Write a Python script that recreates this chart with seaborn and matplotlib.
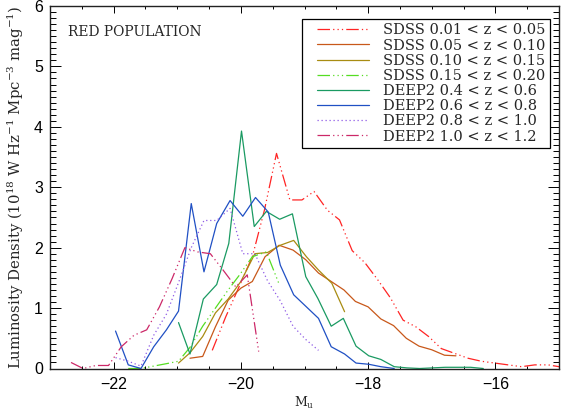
import matplotlib
matplotlib.use("Agg")
import matplotlib.pyplot as plt
import seaborn as sns
from matplotlib.ticker import MultipleLocator
from matplotlib.lines import Line2D
from matplotlib.legend_handler import HandlerLine2D

# magnitudes (M_u) and luminosity density
m_sdss1 = [-20.45, -20.24, -20.03, -19.82, -19.63, -19.44, -19.23, -19.04, -18.85, -18.64,
           -18.45, -18.25, -18.05, -17.85, -17.65, -17.45, -17.25, -17.05, -16.85, -16.64,
           -16.43, -16.22, -16.01, -15.80, -15.59, -15.38, -15.17, -15.00]
ld_sdss1 = [0.30, 0.85, 1.35, 1.85, 2.62, 3.56, 2.79, 2.79, 2.93, 2.62,
            2.46, 1.95, 1.75, 1.47, 1.17, 0.80, 0.69, 0.53, 0.33, 0.25,
            0.17, 0.12, 0.09, 0.06, 0.03, 0.06, 0.06, 0.03]

m_sdss2 = [-20.80, -20.60, -20.40, -20.20, -20.00, -19.82, -19.62, -19.40, -19.18, -18.98,
           -18.78, -18.58, -18.38, -18.20, -18.00, -17.80, -17.60, -17.40, -17.20, -17.00,
           -16.80, -16.62]
ld_sdss2 = [0.17, 0.20, 0.69, 1.13, 1.33, 1.44, 1.85, 2.04, 1.96, 1.80,
            1.58, 1.44, 1.30, 1.11, 1.02, 0.82, 0.71, 0.50, 0.37, 0.31,
            0.22, 0.21]

m_sdss3 = [-20.98, -20.80, -20.60, -20.40, -20.20, -20.00, -19.78, -19.58, -19.38, -19.17,
           -18.97, -18.78, -18.57, -18.37]
ld_sdss3 = [0.09, 0.26, 0.53, 0.92, 1.15, 1.44, 1.90, 1.92, 2.04, 2.12,
            1.85, 1.63, 1.41, 0.94]

m_sdss4 = [-21.77, -21.57, -21.37, -21.17, -20.98, -20.80, -20.60, -20.40, -20.20, -20.02,
           -19.82, -19.60, -19.40]
ld_sdss4 = [0.0, 0.0, 0.04, 0.08, 0.12, 0.35, 0.70, 1.00, 1.30, 1.55,
            1.85, 1.93, 1.40]

m_deep1 = [-20.98, -20.80, -20.59, -20.38, -20.19, -19.99, -19.79, -19.60, -19.39, -19.19,
           -18.98, -18.79, -18.58, -18.39, -18.19, -17.99, -17.80, -17.59, -17.39, -17.19,
           -16.99, -16.79, -16.59, -16.39, -16.19]
ld_deep1 = [0.76, 0.24, 1.15, 1.39, 2.07, 3.93, 2.35, 2.60, 2.47, 2.56,
            1.52, 1.16, 0.70, 0.83, 0.37, 0.21, 0.15, 0.03, 0.01, 0.0,
            0.01, 0.02, 0.02, 0.02, 0.0]

m_deep2 = [-21.97, -21.77, -21.57, -21.37, -21.17, -20.98, -20.78, -20.58, -20.38, -20.17,
           -19.97, -19.77, -19.57, -19.38, -19.17, -18.97, -18.78, -18.58, -18.37, -18.19,
           -17.99, -17.80, -17.59]
ld_deep2 = [0.62, 0.06, 0.0, 0.36, 0.64, 0.95, 2.73, 1.60, 2.40, 2.78,
            2.52, 2.83, 2.59, 1.71, 1.22, 1.02, 0.83, 0.36, 0.24, 0.09,
            0.07, 0.03, 0.0]

m_deep3 = [-21.97, -21.77, -21.57, -21.37, -21.17, -20.97, -20.78, -20.58, -20.38, -20.17,
           -19.97, -19.78, -19.58, -19.38, -19.18, -18.98, -18.78]
ld_deep3 = [0.18, 0.12, 0.04, 0.55, 0.90, 1.45, 2.00, 2.45, 2.45, 2.65,
            1.90, 1.90, 1.45, 1.12, 0.70, 0.48, 0.30]

m_deep4 = [-22.67, -22.48, -22.28, -22.08, -21.88, -21.68, -21.48, -21.28, -21.08, -20.88,
           -20.68, -20.48, -20.28, -20.08, -19.90, -19.72]
ld_deep4 = [0.10, 0.0, 0.05, 0.05, 0.36, 0.55, 0.64, 1.02, 1.49, 2.00,
            1.93, 1.90, 1.63, 1.35, 1.55, 0.28]

labels = ["SDSS 0.01 < z < 0.05", "SDSS 0.05 < z < 0.10", "SDSS 0.10 < z < 0.15",
          "SDSS 0.15 < z < 0.20", "DEEP2 0.4 < z < 0.6", "DEEP2 0.6 < z < 0.8",
          "DEEP2 0.8 < z < 1.0", "DEEP2 1.0 < z < 1.2"]
colors = ['#ff2424', '#c8581a', '#a88c12', '#55dd22', '#1a9a62', '#2050c4', '#8e5ae6', '#cc2868']

dash3 = (0, (10, 2.5, 1, 2.5, 1, 2.5, 1, 2.5))
styles = [dash3, '-', '-', dash3, '-', '-', (0, (1, 2.2)), dash3]

mags = [m_sdss1, m_sdss2, m_sdss3, m_sdss4, m_deep1, m_deep2, m_deep3, m_deep4]
dens = [ld_sdss1, ld_sdss2, ld_sdss3, ld_sdss4, ld_deep1, ld_deep2, ld_deep3, ld_deep4]

sns.set_theme(style='ticks')
plt.rcParams['font.family'] = ['DejaVu Serif']
plt.rcParams['mathtext.fontset'] = 'dejavuserif'

fig = plt.figure(figsize=(5.61, 4.12), dpi=100)
ax = fig.add_axes([50 / 561, 1 - 368.5 / 412, 509 / 561, 362.5 / 412])

for lab, m, ld, c, ls in zip(labels, mags, dens, colors, styles):
    sns.lineplot(x=m, y=ld, color=c, linestyle=ls, linewidth=0.9, label=lab, ax=ax)

ax.set_xlim(-23, -15)
ax.set_ylim(0, 6)
ax.xaxis.set_major_locator(MultipleLocator(2))
ax.xaxis.set_minor_locator(MultipleLocator(0.5))
ax.yaxis.set_major_locator(MultipleLocator(1))
ax.yaxis.set_minor_locator(MultipleLocator(0.1))

ax.tick_params(which='both', direction='in', top=True, right=True, color='black',
               labelsize=11.5, labelfontfamily='Liberation Sans', labelcolor='black', width=0.7)
ax.tick_params(axis='x', which='major', length=5, pad=6)
ax.tick_params(axis='x', which='minor', length=2.5)
ax.tick_params(axis='y', which='major', length=8, pad=5)
ax.tick_params(axis='y', which='minor', length=4)
for sp in ax.spines.values():
    sp.set_linewidth(1.0)
    sp.set_color('#222222')

ax.set_xlabel(r'M$_{\rm u}$', fontsize=9, labelpad=2)
ax.set_ylabel(r'Luminosity Density (10$^{18}$ W Hz$^{-1}$ Mpc$^{-3}$ mag$^{-1}$)',
              fontsize=10.7, labelpad=6)

ax.text(0.035, 0.928, 'RED POPULATION', transform=ax.transAxes, fontsize=10,
        va='center', ha='left')

leg = ax.legend(loc='upper right', bbox_to_anchor=(0.982, 0.964), borderaxespad=0,
                fontsize=10.5, labelspacing=0.08, borderpad=0.3, handlelength=4.3,
                handletextpad=0.95, frameon=True, fancybox=False, framealpha=1,
                edgecolor='black', handler_map={Line2D: HandlerLine2D(xpad=0.72)})
leg.get_frame().set_linewidth(0.9)

fig.savefig('out.png', dpi=100)
